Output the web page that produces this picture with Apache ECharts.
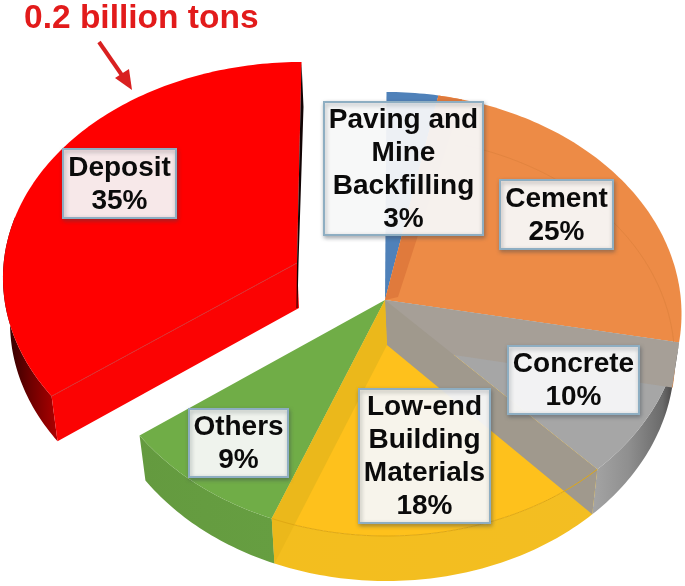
<!DOCTYPE html>
<html><head><meta charset="utf-8">
<style>html,body{margin:0;padding:0;background:#fff}#c{width:685px;height:586px}</style>
<script src="https://cdn.jsdelivr.net/npm/echarts@6/dist/echarts.min.js"></script>
</head><body><div id="c"></div>
<script>
const categories = ['Paving and\nMine\nBackfilling','Cement','Concrete','Low-end\nBuilding\nMaterials','Others','Deposit'];
const values = [3,25,10,18,9,35];
const annotation = '0.2 billion tons';

const topColors  = ['#4f81b9','#ed8b46','#a6a6a6','#fec11c','#70ad47','#ff0000'];
const bandColors = [null,'#e07a3c','#a69f97','#ebb81b',null,'#fb0303'];
const FONT = '"Liberation Sans", Arial, sans-serif';
const labelBoxes = [[324,102,159,133],[500,180,113,69],[508,346,131,68],[359,389,131,134],[189,409,99,68],[63,149,113,69]];

const total = values.reduce((a,b)=>a+b,0);
const starts = []; let acc = 0;
values.forEach(v=>{starts.push(acc/total*360); acc+=v;});
const ends = values.map((v,i)=>starts[i]+v/total*360);
const DEP = values.length-1;
const APEX=[385,300], FLOOR=[387,345];
const EXPLODE=[-88,-37];
function off(i){return i===DEP?EXPLODE:[0,0];}
function rim(t,lower,i){
  const r=t*Math.PI/180, phi=(t-3.5*Math.sin(r))*Math.PI/180, o=off(i);
  const rx=lower?288:295, ry=i===DEP?216:222, cy=(i===DEP?315:314)+(lower?45:0);
  const sx=i===DEP?1.012:1;
  return [386.5+o[0]+rx*sx*Math.sin(phi)+(i===DEP?3:0), cy+o[1]-ry*Math.cos(phi)];
}
function arc(a,b,lower,i){const p=[];const n=Math.max(2,Math.ceil(Math.abs(b-a)));
  for(let k=0;k<=n;k++)p.push(rim(a+(b-a)*k/n,lower,i));return p;}
function shift(p,i){const o=off(i);return [p[0]+o[0],p[1]+o[1]];}
function poly(points,fill,extra){return Object.assign({type:'polygon',shape:{points},style:{fill},silent:true},extra||{});}
function hGrad(x0,x1,stops){return new echarts.graphic.LinearGradient(x0,0,x1,0,stops.map(s=>({offset:s[0],color:s[1]})),true);}

const wallFills = i => ({
  2:hGrad(585,682,[[0,'#a9a9a9'],[.45,'#8f8f8f'],[.8,'#6a6a6a'],[1,'#2e2a2a']]),
  3:hGrad(270,595,[[0,'#f3be1e'],[1,'#f3be22']]),
  4:hGrad(137,275,[[0,'#649a3f'],[1,'#669e41']]),
  5:hGrad(0,55,[[0,'#1a0000'],[.55,'#6d0000'],[1,'#a80000']])
})[i];

function wallItem(params){
  const i=params.dataIndex, f=wallFills(i);
  if(!f) return {type:'group',children:[]};
  const a=Math.max(starts[i],96), b=Math.min(ends[i],i===DEP?283:360);
  return poly(arc(a,b,false,i).concat(arc(b,a,true,i)),f);
}
function topItem(params){
  const i=params.dataIndex;
  return poly([shift(APEX,i)].concat(arc(starts[i],ends[i],false,i)),topColors[i]);
}
function bandItem(params){
  const i=params.dataIndex, c=[];
  const A=shift(APEX,i), F=shift(FLOOR,i);
  if(i===1){
    c.push(poly([A,[A[0]+13,A[1]-3],rim(starts[1]+5,false,1),rim(starts[1],false,1)],bandColors[1]));
    c.push({type:'polyline',shape:{points:arc(starts[1]+6,ends[1],true,1)},style:{stroke:'#e2843f',lineWidth:1,fill:null},silent:true});
  }
  if(i===2){
    c.push(poly([A,F,rim(starts[2],true,2),rim(starts[2],false,2)],bandColors[2]));
    c.push(poly([A,F,rim(ends[2],true,2),rim(ends[2],false,2)],'#a0998d'));
  }
  if(i===3){
    c.push(poly([A,F,rim(ends[3],true,3),rim(ends[3],false,3)],bandColors[3]));
    c.push({type:'polyline',shape:{points:arc(starts[3],ends[3],false,3)},style:{stroke:'#dfa814',lineWidth:1,fill:null},silent:true});
  }
  if(i===DEP){
    const e=rim(starts[i],false,i), e2=rim(starts[i],true,i);
    c.push(poly([A,F,e2,e],bandColors[i]));
    c.push({type:'line',shape:{x1:A[0],y1:A[1],x2:e[0],y2:e[1]},style:{stroke:'#d83030',lineWidth:1},silent:true});
    const t=rim(360,false,i);
    c.push(poly([t,[t[0]+2,t[1]+45],[A[0]+1.5,A[1]],[A[0]+.5,F[1]],[A[0]-.5,F[1]],A],'#120404'));
  }
  return {type:'group',children:c};
}

const seriesData = categories.map((c,i)=>({name:c,value:values[i]}));
const mk=(fn,z)=>({type:'custom',coordinateSystem:'none',renderItem:fn,data:seriesData,z,silent:true,animation:false,clip:false});

const labelGraphics = [];
categories.forEach((c,i)=>{
  const b=labelBoxes[i];
  labelGraphics.push(
    {type:'rect',z:100,shape:{x:b[0],y:b[1],width:b[2],height:b[3]},
     style:{fill:'rgba(255,255,255,0.9)',stroke:'#8eaec2',lineWidth:2,shadowBlur:4,shadowColor:'rgba(60,70,80,.45)',shadowOffsetX:1,shadowOffsetY:2}},
    {type:'text',z:101,x:b[0]+b[2]/2,y:b[1]+b[3]/2+1,
     style:{text:c+'\n'+values[i]+'%',font:'bold 28px '+FONT,fill:'#0b0b0b',align:'center',verticalAlign:'middle',lineHeight:33}}
  );
});

const chart=echarts.init(document.getElementById('c'),null,{renderer:'canvas'});
chart.setOption({
  backgroundColor:'#fff',animation:false,
  title:{text:annotation,left:24,top:2,padding:0,textStyle:{fontFamily:FONT,fontWeight:'bold',fontSize:33.5,color:'#e21b1b'}},
  series:[mk(wallItem,1),mk(topItem,2),mk(bandItem,3)],
  graphic:{elements:labelGraphics.concat([
    {type:'line',z:100,shape:{x1:99,y1:42,x2:126,y2:81},style:{stroke:'#d92020',lineWidth:4}},
    {type:'polygon',z:100,shape:{points:[[132,90],[115,78],[129,69]]},style:{fill:'#d92020'}}
  ])}
});
</script></body></html>
